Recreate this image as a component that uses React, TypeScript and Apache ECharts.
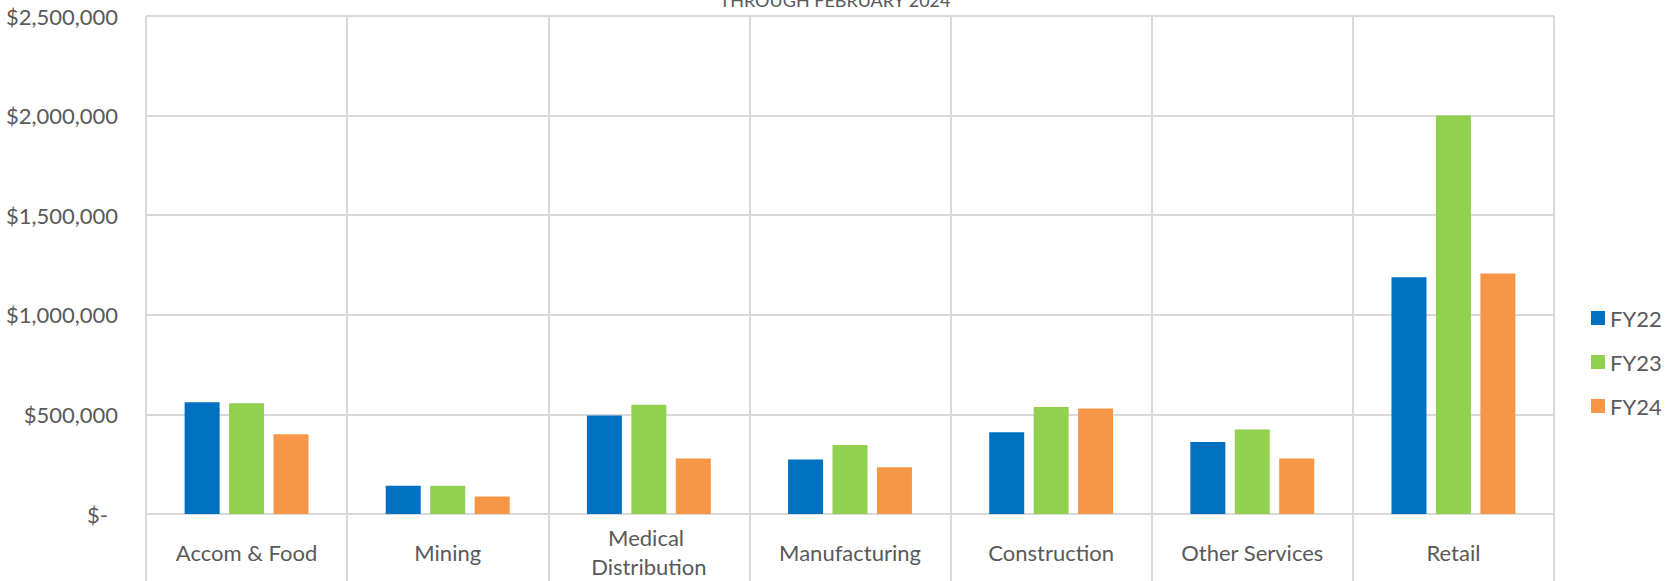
import React, { useEffect, useRef } from "react";
import * as echarts from "echarts";

const categories = ["Accom & Food", "Mining", "Medical Distribution", "Manufacturing", "Construction", "Other Services", "Retail"];
const seriesNames = ["FY22", "FY23", "FY24"];
const fy22 = [561000, 142000, 494000, 274000, 411000, 361000, 1189000];
const fy23 = [556000, 142000, 549000, 347000, 537000, 424000, 2000000];
const fy24 = [400000, 88000, 279000, 235000, 530000, 279000, 1207000];
const colors = ["#0070C0", "#92D050", "#F79646"];
const titleText = "THROUGH FEBRUARY 2024";

const FONT = "Lato";
const GRAY = "#595959";
const LINE = "#d9d9d9";

export default function App() {
  const ref = useRef<HTMLDivElement>(null);
  useEffect(() => {
    if (!ref.current) return;
    const chart = echarts.init(ref.current, null, { renderer: "svg" });
    const values = [fy22, fy23, fy24];
    chart.setOption({
      animation: false,
      backgroundColor: "#ffffff",
      textStyle: { fontFamily: FONT },
      graphic: [
        {
          type: "text",
          x: 835,
          y: 9,
          style: {
            text: titleText,
            fontSize: 18,
            fontFamily: FONT,
            fill: GRAY,
            align: "center",
            verticalAlign: "bottom",
          },
        },
      ],
      legend: {
        orient: "vertical",
        left: 1586,
        top: 302,
        itemWidth: 14,
        itemHeight: 14,
        itemGap: 22,
        icon: "rect",
        data: seriesNames,
        textStyle: { fontFamily: FONT, fontSize: 22, color: GRAY },
      },
      grid: { left: 146, right: 111, top: 16, bottom: 54, containLabel: false },
      xAxis: {
        type: "category",
        data: categories,
        boundaryGap: true,
        axisLine: { show: true, lineStyle: { color: LINE, width: 2 } },
        axisTick: { show: true, length: 70, lineStyle: { color: LINE, width: 2 } },
        splitLine: { show: true, lineStyle: { color: LINE, width: 2 } },
        axisLabel: {
          interval: 0,
          margin: 38,
          verticalAlign: "middle",
          lineHeight: 29,
          width: 175,
          overflow: "break",
          fontFamily: FONT,
          fontSize: 22,
          color: GRAY,
        },
      },
      yAxis: {
        type: "value",
        min: 0,
        max: 2500000,
        interval: 500000,
        axisLine: { show: false },
        axisTick: { show: false },
        splitLine: { show: true, lineStyle: { color: LINE, width: 2 } },
        axisLabel: {
          margin: 28,
          fontFamily: FONT,
          fontSize: 22,
          color: GRAY,
          formatter: (v: number) =>
            v === 0 ? "{d|$-}" : "$" + v.toLocaleString("en-US"),
          rich: { d: { fontFamily: FONT, fontSize: 22, color: GRAY, padding: [0, 10, 0, 0] } },
        },
      },
      series: seriesNames.map((name, i) => ({
        name,
        type: "bar",
        data: values[i],
        barWidth: 35,
        barGap: "27%",
        itemStyle: { color: colors[i] },
      })),
    });
    return () => chart.dispose();
  }, []);
  return (
    <div
      ref={ref}
      style={{ position: "fixed", left: 0, top: 0, width: 1665, height: 581 }}
    />
  );
}
